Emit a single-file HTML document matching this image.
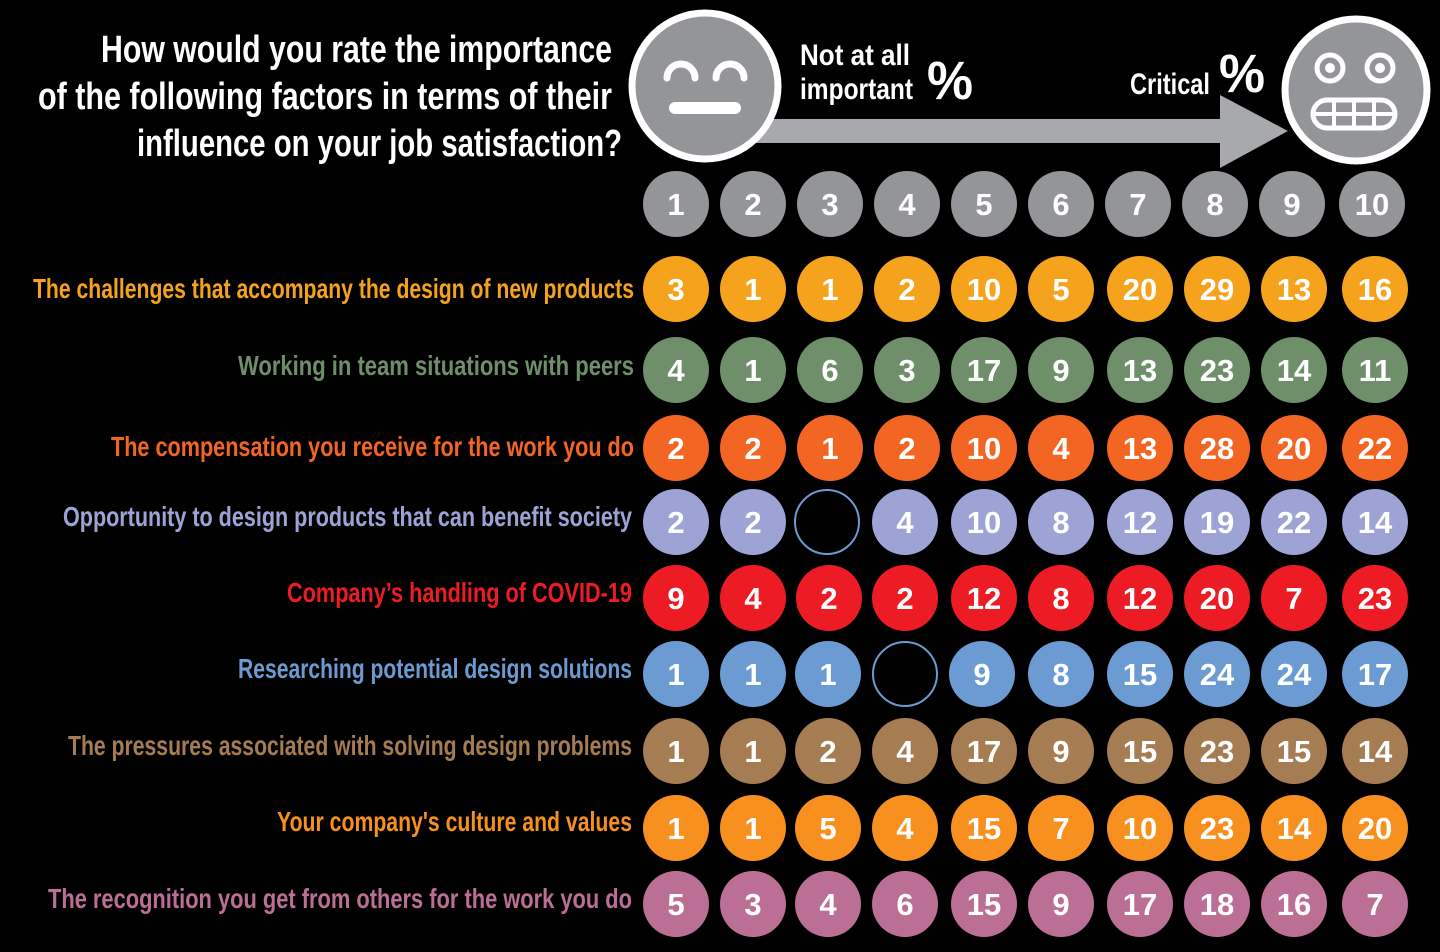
<!DOCTYPE html>
<html><head><meta charset="utf-8"><style>
html,body{margin:0;padding:0;background:#000;}
svg{display:block}
text{font-family:"Liberation Sans Narrow","Liberation Sans",sans-serif;font-weight:bold}
.n text{fill:#fff;font-size:31px;text-anchor:middle}
.l{font-size:28px;text-anchor:end}
</style></head><body>
<svg width="1440" height="952" viewBox="0 0 1440 952" xmlns="http://www.w3.org/2000/svg">
<rect width="1440" height="952" fill="#000"/>
<g fill="#fff" style="font-size:38px">
<text x="101" y="62" textLength="511" lengthAdjust="spacingAndGlyphs">How would you rate the importance</text>
<text x="38" y="109" textLength="574" lengthAdjust="spacingAndGlyphs">of the following factors in terms of their</text>
<text x="137" y="156" textLength="485" lengthAdjust="spacingAndGlyphs">influence on your job satisfaction?</text>
</g>
<!-- arrow -->
<rect x="700" y="119" width="530" height="24" fill="#a7a9ac"/>
<polygon points="1220,95 1288,131 1220,168" fill="#a7a9ac"/>
<!-- left face -->
<circle cx="705" cy="86" r="73" fill="#939598" stroke="#fff" stroke-width="7"/>
<path d="M667,78 a14,14 0 0 1 28,0 M716,78 a14,14 0 0 1 28,0" fill="none" stroke="#fff" stroke-width="7" stroke-linecap="round"/>
<rect x="669" y="102" width="72" height="12" rx="6" fill="#fff"/>
<!-- right face -->
<circle cx="1356" cy="90" r="71" fill="#939598" stroke="#fff" stroke-width="7"/>
<circle cx="1330" cy="68" r="13" fill="none" stroke="#fff" stroke-width="5"/>
<circle cx="1330" cy="68" r="5" fill="#fff"/>
<circle cx="1380" cy="68" r="13" fill="none" stroke="#fff" stroke-width="5"/>
<circle cx="1380" cy="68" r="5" fill="#fff"/>
<rect x="1313" y="100" width="82" height="28" rx="14" fill="none" stroke="#fff" stroke-width="5"/>
<path d="M1313,114 H1395 M1334,100 V128 M1354,100 V128 M1374,100 V128" stroke="#fff" stroke-width="4"/>
<g fill="#fff">
<text x="800" y="65" style="font-size:30px" textLength="110" lengthAdjust="spacingAndGlyphs">Not at all</text>
<text x="800" y="99" style="font-size:30px" textLength="113" lengthAdjust="spacingAndGlyphs">important</text>
<text x="927" y="99" style="font-size:54px" textLength="46" lengthAdjust="spacingAndGlyphs">%</text>
<text x="1130" y="94" style="font-size:30px" textLength="80" lengthAdjust="spacingAndGlyphs">Critical</text>
<text x="1219" y="92" style="font-size:54px" textLength="46" lengthAdjust="spacingAndGlyphs">%</text>
</g>
<!-- header numbers -->
<g class="n" fill="#939598">
<circle cx="676" cy="204" r="33"/><circle cx="753" cy="204" r="33"/><circle cx="830" cy="204" r="33"/><circle cx="907" cy="204" r="33"/><circle cx="984" cy="204" r="33"/><circle cx="1061" cy="204" r="33"/><circle cx="1138" cy="204" r="33"/><circle cx="1215" cy="204" r="33"/><circle cx="1292" cy="204" r="33"/><circle cx="1372" cy="204" r="33"/>
<text x="676" y="215">1</text><text x="753" y="215">2</text><text x="830" y="215">3</text><text x="907" y="215">4</text><text x="984" y="215">5</text><text x="1061" y="215">6</text><text x="1138" y="215">7</text><text x="1215" y="215">8</text><text x="1292" y="215">9</text><text x="1372" y="215">10</text>
</g>
<!-- rows -->
<text class="l" x="634" y="298" fill="#f5a21d" textLength="601" lengthAdjust="spacingAndGlyphs">The challenges that accompany the design of new products</text>
<g class="n" fill="#f5a21d" transform="translate(0,289)">
<circle cx="676" r="33"/><circle cx="753" r="33"/><circle cx="830" r="33"/><circle cx="907" r="33"/><circle cx="984" r="33"/><circle cx="1061" r="33"/><circle cx="1140" r="33"/><circle cx="1217" r="33"/><circle cx="1294" r="33"/><circle cx="1375" r="33"/>
<text x="676" y="11">3</text><text x="753" y="11">1</text><text x="830" y="11">1</text><text x="907" y="11">2</text><text x="984" y="11">10</text><text x="1061" y="11">5</text><text x="1140" y="11">20</text><text x="1217" y="11">29</text><text x="1294" y="11">13</text><text x="1375" y="11">16</text>
</g>
<text class="l" x="634" y="375" fill="#6e8f6a" textLength="396" lengthAdjust="spacingAndGlyphs">Working in team situations with peers</text>
<g class="n" fill="#6e8f6a" transform="translate(0,370)">
<circle cx="676" r="33"/><circle cx="753" r="33"/><circle cx="830" r="33"/><circle cx="907" r="33"/><circle cx="984" r="33"/><circle cx="1061" r="33"/><circle cx="1140" r="33"/><circle cx="1217" r="33"/><circle cx="1294" r="33"/><circle cx="1375" r="33"/>
<text x="676" y="11">4</text><text x="753" y="11">1</text><text x="830" y="11">6</text><text x="907" y="11">3</text><text x="984" y="11">17</text><text x="1061" y="11">9</text><text x="1140" y="11">13</text><text x="1217" y="11">23</text><text x="1294" y="11">14</text><text x="1375" y="11">11</text>
</g>
<text class="l" x="634" y="456" fill="#f26522" textLength="523" lengthAdjust="spacingAndGlyphs">The compensation you receive for the work you do</text>
<g class="n" fill="#f26522" transform="translate(0,448)">
<circle cx="676" r="33"/><circle cx="753" r="33"/><circle cx="830" r="33"/><circle cx="907" r="33"/><circle cx="984" r="33"/><circle cx="1061" r="33"/><circle cx="1140" r="33"/><circle cx="1217" r="33"/><circle cx="1294" r="33"/><circle cx="1375" r="33"/>
<text x="676" y="11">2</text><text x="753" y="11">2</text><text x="830" y="11">1</text><text x="907" y="11">2</text><text x="984" y="11">10</text><text x="1061" y="11">4</text><text x="1140" y="11">13</text><text x="1217" y="11">28</text><text x="1294" y="11">20</text><text x="1375" y="11">22</text>
</g>
<text class="l" x="632" y="526" fill="#9da3d5" textLength="569" lengthAdjust="spacingAndGlyphs">Opportunity to design products that can benefit society</text>
<g class="n" fill="#9da3d5" transform="translate(0,522)">
<circle cx="676" r="33"/><circle cx="753" r="33"/><circle cx="827" r="32" fill="#000" stroke="#6b9bd2" stroke-width="2"/><circle cx="905" r="33"/><circle cx="984" r="33"/><circle cx="1061" r="33"/><circle cx="1140" r="33"/><circle cx="1217" r="33"/><circle cx="1294" r="33"/><circle cx="1375" r="33"/>
<text x="676" y="11">2</text><text x="753" y="11">2</text><text x="905" y="11">4</text><text x="984" y="11">10</text><text x="1061" y="11">8</text><text x="1140" y="11">12</text><text x="1217" y="11">19</text><text x="1294" y="11">22</text><text x="1375" y="11">14</text>
</g>
<text class="l" x="632" y="602" fill="#ed1c24" textLength="345" lengthAdjust="spacingAndGlyphs">Company’s handling of COVID-19</text>
<g class="n" fill="#ed1c24" transform="translate(0,598)">
<circle cx="676" r="33"/><circle cx="753" r="33"/><circle cx="829" r="33"/><circle cx="905" r="33"/><circle cx="984" r="33"/><circle cx="1061" r="33"/><circle cx="1140" r="33"/><circle cx="1217" r="33"/><circle cx="1294" r="33"/><circle cx="1375" r="33"/>
<text x="676" y="11">9</text><text x="753" y="11">4</text><text x="829" y="11">2</text><text x="905" y="11">2</text><text x="984" y="11">12</text><text x="1061" y="11">8</text><text x="1140" y="11">12</text><text x="1217" y="11">20</text><text x="1294" y="11">7</text><text x="1375" y="11">23</text>
</g>
<text class="l" x="632" y="678" fill="#6b9bd2" textLength="394" lengthAdjust="spacingAndGlyphs">Researching potential design solutions</text>
<g class="n" fill="#6b9bd2" transform="translate(0,674)">
<circle cx="676" r="33"/><circle cx="753" r="33"/><circle cx="828" r="33"/><circle cx="905" r="32" fill="#000" stroke="#6b9bd2" stroke-width="2"/><circle cx="982" r="33"/><circle cx="1061" r="33"/><circle cx="1140" r="33"/><circle cx="1217" r="33"/><circle cx="1294" r="33"/><circle cx="1375" r="33"/>
<text x="676" y="11">1</text><text x="753" y="11">1</text><text x="828" y="11">1</text><text x="982" y="11">9</text><text x="1061" y="11">8</text><text x="1140" y="11">15</text><text x="1217" y="11">24</text><text x="1294" y="11">24</text><text x="1375" y="11">17</text>
</g>
<text class="l" x="632" y="755" fill="#a67c52" textLength="564" lengthAdjust="spacingAndGlyphs">The pressures associated with solving design problems</text>
<g class="n" fill="#a67c52" transform="translate(0,751)">
<circle cx="676" r="33"/><circle cx="753" r="33"/><circle cx="828" r="33"/><circle cx="905" r="33"/><circle cx="984" r="33"/><circle cx="1061" r="33"/><circle cx="1140" r="33"/><circle cx="1217" r="33"/><circle cx="1294" r="33"/><circle cx="1375" r="33"/>
<text x="676" y="11">1</text><text x="753" y="11">1</text><text x="828" y="11">2</text><text x="905" y="11">4</text><text x="984" y="11">17</text><text x="1061" y="11">9</text><text x="1140" y="11">15</text><text x="1217" y="11">23</text><text x="1294" y="11">15</text><text x="1375" y="11">14</text>
</g>
<text class="l" x="632" y="831" fill="#f7901e" textLength="355" lengthAdjust="spacingAndGlyphs">Your company's culture and values</text>
<g class="n" fill="#f7901e" transform="translate(0,828)">
<circle cx="676" r="33"/><circle cx="753" r="33"/><circle cx="828" r="33"/><circle cx="905" r="33"/><circle cx="984" r="33"/><circle cx="1061" r="33"/><circle cx="1140" r="33"/><circle cx="1217" r="33"/><circle cx="1294" r="33"/><circle cx="1375" r="33"/>
<text x="676" y="11">1</text><text x="753" y="11">1</text><text x="828" y="11">5</text><text x="905" y="11">4</text><text x="984" y="11">15</text><text x="1061" y="11">7</text><text x="1140" y="11">10</text><text x="1217" y="11">23</text><text x="1294" y="11">14</text><text x="1375" y="11">20</text>
</g>
<text class="l" x="632" y="908" fill="#bb6f95" textLength="584" lengthAdjust="spacingAndGlyphs">The recognition you get from others for the work you do</text>
<g class="n" fill="#bb6f95" transform="translate(0,904)">
<circle cx="676" r="33"/><circle cx="753" r="33"/><circle cx="828" r="33"/><circle cx="905" r="33"/><circle cx="984" r="33"/><circle cx="1061" r="33"/><circle cx="1140" r="33"/><circle cx="1217" r="33"/><circle cx="1294" r="33"/><circle cx="1375" r="33"/>
<text x="676" y="11">5</text><text x="753" y="11">3</text><text x="828" y="11">4</text><text x="905" y="11">6</text><text x="984" y="11">15</text><text x="1061" y="11">9</text><text x="1140" y="11">17</text><text x="1217" y="11">18</text><text x="1294" y="11">16</text><text x="1375" y="11">7</text>
</g>
</svg>
</body></html>
